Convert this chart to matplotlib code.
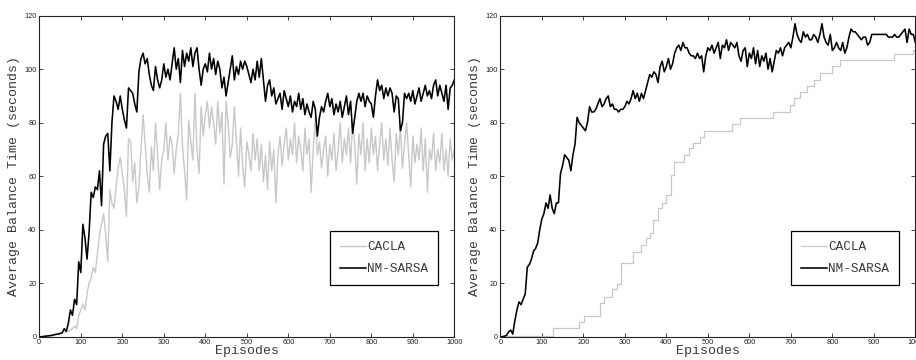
import numpy as np
import matplotlib
matplotlib.use("Agg")
import matplotlib.pyplot as plt

# =========================
# DATA (every 5 episodes)
# =========================

episodes = np.arange(0, 1001, 5)

left_nm_sarsa = [
    0, 0, 0.1, 0.2, 0.3, 0.4, 0.5, 0.7, 0.9, 1.0,
    1.2, 1.5, 3, 2, 5, 10, 8, 14, 12, 28,
    24, 42, 37, 29, 39, 54, 52, 56, 55, 62,
    49, 72, 75, 76, 62, 80, 90, 88, 85, 90,
    85, 81, 78, 93, 92, 91, 87, 84, 99, 104,
    106, 102, 104, 98, 94, 92, 101, 96, 93, 96,
    102, 97, 100, 96, 102, 108, 100, 104, 95, 107,
    101, 106, 103, 108, 101, 106, 108, 100, 94, 100,
    102, 99, 106, 100, 104, 98, 103, 100, 93, 97,
    90, 95, 100, 105, 96, 101, 98, 103, 100, 103,
    101, 98, 95, 100, 96, 103, 97, 104, 96, 88,
    94, 96, 90, 93, 87, 89, 91, 85, 92, 89,
    86, 90, 84, 88, 86, 91, 85, 89, 83, 87,
    84, 82, 88, 85, 75, 82, 86, 84, 88, 91,
    86, 89, 83, 87, 84, 88, 82, 86, 90, 83,
    88, 76, 82, 88, 91, 88, 91, 86, 90, 88,
    87, 82, 90, 96, 92, 94, 89, 93, 90, 93,
    91, 84, 90, 89, 77, 80, 91, 89, 91, 88,
    92, 87, 90, 93, 88, 91, 94, 90, 92, 89,
    94, 96, 90, 94, 91, 88, 94, 85, 93, 94,
    96,
]

left_cacla = [
    0, 0, 0, 0.1, 0.2, 0.3, 0.4, 0.5, 0.7, 0.9,
    1.0, 1.2, 1.5, 1.8, 2, 2.5, 3, 4, 3, 8,
    10, 12, 10, 16, 20, 22, 26, 24, 31, 38,
    42, 46, 38, 28, 55, 50, 48, 56, 63, 67,
    61, 55, 45, 74, 73, 58, 65, 50, 56, 70,
    83, 72, 61, 54, 71, 62, 80, 68, 55, 66,
    70, 80, 66, 75, 72, 61, 70, 76, 91, 71,
    62, 51, 81, 73, 66, 91, 70, 61, 86, 75,
    83, 88, 78, 86, 80, 72, 88, 76, 84, 57,
    88, 80, 67, 72, 86, 73, 60, 78, 64, 56,
    73, 68, 62, 76, 66, 74, 62, 72, 58, 68,
    55, 73, 62, 70, 50, 68, 75, 64, 72, 78,
    66, 74, 68, 80, 65, 75, 70, 62, 78, 68,
    74, 54, 70, 82, 68, 73, 63, 70, 75, 60,
    72, 66, 76, 62, 70, 80, 65, 74, 68, 78,
    65, 80, 72, 57, 76, 68, 80, 62, 74, 65,
    78, 68, 75, 62, 72, 80, 66, 74, 64, 78,
    66, 58, 76, 68, 78, 63, 72, 80, 68, 56,
    75, 65, 72, 66, 78, 62, 74, 54, 70, 66,
    76, 62, 70, 65, 76, 62, 70, 60, 74, 66,
    70,
]

right_nm_sarsa = [
    0, 0, 0.2, 0.5, 1.8, 2.5, 1.0, 6, 10, 13,
    12, 14, 16, 26, 27, 29, 32, 33, 35, 40,
    44, 46, 50, 48, 53, 48, 46, 50, 50, 61,
    64, 68, 67, 66, 62, 68, 72, 82, 80, 79,
    78, 77, 80, 86, 84, 84, 85, 87, 89, 86,
    87, 89, 90, 86, 87, 85, 85, 84, 85, 85,
    86, 88, 87, 89, 92, 89, 91, 88, 91, 89,
    92, 95, 98, 97, 99, 98, 95, 101, 103, 99,
    101, 104, 100, 102, 106, 108, 109, 107, 110, 108,
    108, 106, 105, 105, 104, 106, 104, 105, 99, 105,
    108, 107, 109, 106, 108, 110, 104, 109, 108, 111,
    107, 110, 109, 108, 110, 105, 103, 107, 108, 101,
    106, 104, 108, 102, 107, 101, 105, 103, 106, 100,
    104, 99, 103, 107, 106, 108, 105, 108, 109, 110,
    108, 112, 117, 113, 111, 110, 114, 112, 113, 111,
    111, 113, 112, 110, 113, 117, 112, 110, 109, 113,
    107, 108, 110, 108, 107, 110, 106, 108, 112, 115,
    114, 114, 113, 112, 111, 112, 112, 109, 110, 113,
    113, 113, 113, 113, 113, 113, 113, 112, 112, 112,
    113, 112, 112, 113, 114, 115, 110, 115, 113, 113,
    110,
]

# CACLA on the right is a staircase: episode where each step starts, and level
right_cacla_ep = [
    0, 128, 189, 201, 239, 249, 269, 281, 291, 320,
    339, 351, 360, 369, 379, 390, 400, 411, 419, 442,
    454, 464, 480, 490, 558, 578, 658, 698, 708, 722,
    738, 755, 770, 799, 818, 949, 995, 1000,
]
right_cacla_val = [
    0.3, 3.2, 5.6, 7.7, 12.5, 15, 17.8, 19.6, 27.4, 31.8,
    34.3, 36.8, 38.6, 43.6, 48, 49.9, 53, 60.4, 65.4, 67.9,
    70.4, 72.3, 74.8, 77.0, 79.5, 81.9, 84.1, 86.6, 89.1, 91.4,
    93.8, 96, 98.5, 101.2, 103.4, 105.8, 107, 107,
]

series_names = ["CACLA", "NM-SARSA"]
x_label = "Episodes"
y_label = "Average Balance Time (seconds)"

# =========================
# STYLE
# =========================

MONO = "Liberation Mono"
SANS = "Liberation Sans"
CACLA_COLOR = "#c8c8c8"
TEXT_COLOR = "#3a3a3a"


def style_axes(ax):
    ax.set_xlim(0, 1000)
    ax.set_ylim(0, 120)
    ax.set_xticks(np.arange(0, 1001, 100))
    ax.set_yticks(np.arange(0, 121, 20))
    ax.tick_params(direction="in", length=3, width=0.6, top=True, right=True,
                   labelsize=5.3, colors="#222222", pad=2)
    for lab in ax.get_xticklabels() + ax.get_yticklabels():
        lab.set_fontfamily(SANS)
    for sp in ax.spines.values():
        sp.set_linewidth(0.8)
        sp.set_color("#222222")
    ax.set_xlabel(x_label, family=MONO, fontsize=9.5, color=TEXT_COLOR, labelpad=-1)
    ax.set_ylabel(y_label, family=MONO, fontsize=9.5, color=TEXT_COLOR, labelpad=3)
    leg = ax.legend(loc="upper left", bbox_to_anchor=(0.70, 0.33), borderaxespad=0,
                    prop={"family": MONO, "size": 9.2}, fancybox=False,
                    edgecolor="black", handlelength=2.0, handletextpad=0.1,
                    labelspacing=0.8, borderpad=0.8, framealpha=1)
    leg.get_frame().set_linewidth(0.9)
    for t in leg.get_texts():
        t.set_color(TEXT_COLOR)


fig = plt.figure(figsize=(9.16, 3.6), dpi=100)

# =========================
# LEFT PANEL
# =========================

ax1 = fig.add_axes([0.0429, 0.0647, 0.4531, 0.8917])
ax1.plot(episodes, left_cacla, color=CACLA_COLOR, lw=1.0, label=series_names[0])
ax1.plot(episodes, left_nm_sarsa, color="black", lw=1.15, label=series_names[1])
style_axes(ax1)

# =========================
# RIGHT PANEL
# =========================

ax2 = fig.add_axes([0.5462, 0.0647, 0.4531, 0.8917])
ax2.plot(right_cacla_ep, right_cacla_val, color=CACLA_COLOR, lw=0.9,
         drawstyle="steps-post", label=series_names[0])
ax2.plot(episodes, right_nm_sarsa, color="black", lw=1.15, label=series_names[1])
style_axes(ax2)

fig.savefig("out.png", dpi=100)
